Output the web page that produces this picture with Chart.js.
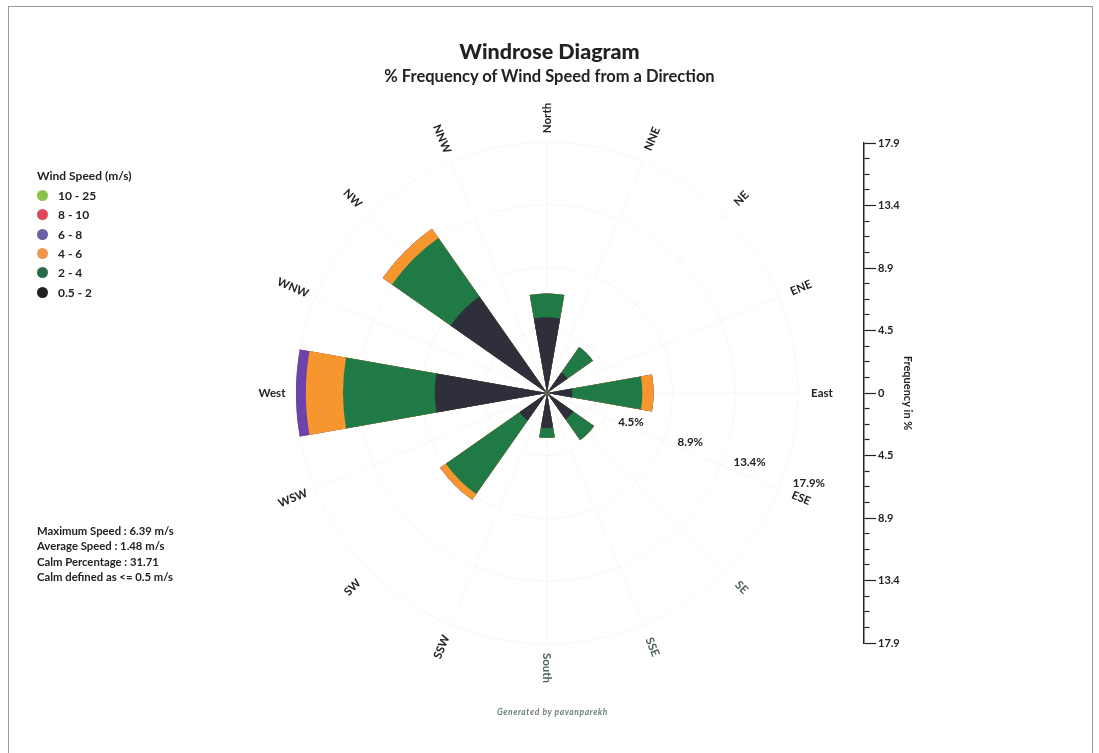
<!DOCTYPE html>
<html>
<head>
<meta charset="utf-8">
<script src="https://cdn.jsdelivr.net/npm/chart.js@4.4.1/dist/chart.umd.min.js"></script>
<style>
html,body{margin:0;padding:0;background:#fff;}
#wrap{position:relative;width:1099px;height:753px;overflow:hidden;font-family:Lato,'Open Sans',sans-serif;color:#222;background:#fff;}
#frame{position:absolute;left:8px;top:6px;width:1085px;height:800px;border:1.5px solid #9a9a9a;box-sizing:border-box;}
#rose{position:absolute;left:0;top:0;}
#axis{position:absolute;left:796px;top:123px;}
#title{position:absolute;left:0;top:38px;width:1099px;text-align:center;font-weight:900;font-size:21.5px;color:#222;}
#subtitle{position:absolute;left:0;top:66px;width:1099px;text-align:center;font-weight:bold;font-size:16.5px;color:#222;}
#legend{position:absolute;left:37px;top:168px;font-weight:bold;}
#legend .lt{font-size:12px;margin-bottom:3px;}
#legend .it{height:19.3px;font-size:12px;display:flex;align-items:center;}
#legend .dot{width:11px;height:11px;border-radius:50%;margin-left:0px;margin-right:10px;}
#stats{position:absolute;left:37px;top:523px;font-weight:bold;font-size:11.3px;line-height:15.4px;}
#footer{position:absolute;left:0;top:707px;width:1099px;text-align:center;font-style:italic;font-weight:bold;font-size:8.5px;color:#6e7d7d;letter-spacing:0.6px;padding-left:6px;box-sizing:border-box;}
</style>
</head>
<body>
<div id="wrap">
  <div id="frame"></div>
  <canvas id="rose" width="1099" height="753"></canvas>
  <canvas id="axis" width="120" height="540"></canvas>
  <div id="title">Windrose Diagram</div>
  <div id="subtitle">% Frequency of Wind Speed from a Direction</div>
  <div id="legend"></div>
  <div id="stats">
    <div>Maximum Speed : 6.39 m/s</div>
    <div>Average Speed : 1.48 m/s</div>
    <div>Calm Percentage : 31.71</div>
    <div>Calm defined as &lt;= 0.5 m/s</div>
  </div>
  <div id="footer">Generated by pavanparekh</div>
</div>
<script>
// ---------------- data ----------------
const directions = ['North','NNE','NE','ENE','East','ESE','SE','SSE','South','SSW','SW','WSW','West','WNW','NW','NNW'];
const speedBins = ['0.5 - 2','2 - 4','4 - 6','6 - 8','8 - 10','10 - 25'];
// % frequency per direction for each wind speed bin (N, NNE, NE, ... NNW)
const freq_0_5_2 = [5.4, 0, 1.8, 0, 1.8, 0, 2.3, 0, 2.5, 0, 2.4, 0, 8.0, 0, 8.4, 0];
const freq_2_4   = [1.7, 0, 2.2, 0, 5.0, 0, 1.8, 0, 0.7, 0, 6.4, 0, 6.55, 0, 5.1, 0];
const freq_4_6   = [0, 0, 0, 0, 0.8, 0, 0, 0, 0, 0, 0.5, 0, 2.65, 0, 0.8, 0];
const freq_6_8   = [0, 0, 0, 0, 0, 0, 0, 0, 0, 0, 0, 0, 0.7, 0, 0, 0];
const freq_8_10  = [0, 0, 0, 0, 0, 0, 0, 0, 0, 0, 0, 0, 0, 0, 0, 0];
const freq_10_25 = [0, 0, 0, 0, 0, 0, 0, 0, 0, 0, 0, 0, 0, 0, 0, 0];
const binSeries = [freq_0_5_2, freq_2_4, freq_4_6, freq_6_8, freq_8_10, freq_10_25];
const radialTickValues = [0, 4.475, 8.95, 13.425, 17.9];
const radialTickLabels = ['', '4.5%', '8.9%', '13.4%', '17.9%'];
const axisMajorValues = [-17.9, -13.425, -8.95, -4.475, 0, 4.475, 8.95, 13.425, 17.9];
const axisMajorLabels = ['17.9', '13.4', '8.9', '4.5', '0', '4.5', '8.9', '13.4', '17.9'];
const legendOrder = ['10 - 25','8 - 10','6 - 8','4 - 6','2 - 4','0.5 - 2'];

// ---------------- styles ----------------
const binColors = {'0.5 - 2':'#2f2f3b','2 - 4':'#1f7a45','4 - 6':'#f7952e','6 - 8':'#6c42ad','8 - 10':'#e0475b','10 - 25':'#86c240'};
const legendDotColors = {'0.5 - 2':'#222','2 - 4':'#2a6b4c','4 - 6':'#f0964a','6 - 8':'#6c5fa6','8 - 10':'#e0475b','10 - 25':'#8bc34a'};
const wedgeDeg = 20, gapDeg = 2.5;
const gridColor = 'rgba(225,205,205,0.18)';
const fontFamily = "Lato, 'Open Sans', sans-serif";
Chart.defaults.font.family = fontFamily;

// ---------------- legend (HTML) ----------------
const lg = document.getElementById('legend');
lg.innerHTML = '<div class="lt">Wind Speed (m/s)</div>' + legendOrder.map(b =>
  `<div class="it"><span class="dot" style="background:${legendDotColors[b]}"></span>${b}</div>`).join('');

// ---------------- build stacked (cumulative) polar datasets ----------------
const sectorLabels = [];
directions.forEach(d => { sectorLabels.push(d); sectorLabels.push(''); });
const running = directions.map(() => 0);
const datasets = binSeries.map((series, k) => {
  const data = [];
  series.forEach((v, i) => { running[i] += v; data.push(+running[i].toFixed(3)); data.push(0); });
  return {
    label: speedBins[k], data,
    backgroundColor: binColors[speedBins[k]],
    borderWidth: 0,
    angle: ctx => (ctx.dataIndex % 2 === 0 ? wedgeDeg : gapDeg)
  };
});

const roseLabels = {
  id: 'roseLabels',
  beforeDatasetsDraw(chart) {
    const s = chart.scales.r, ctx = chart.ctx;
    const cx = s.xCenter, cy = s.yCenter, R = s.drawingArea;
    ctx.save();
    ctx.strokeStyle = gridColor; ctx.lineWidth = 1;
    directions.forEach((d, i) => {
      const b = i * 22.5 * Math.PI / 180;
      ctx.beginPath(); ctx.moveTo(cx, cy);
      ctx.lineTo(cx + R * Math.sin(b), cy - R * Math.cos(b)); ctx.stroke();
    });
    ctx.restore();
  },
  afterDraw(chart) {
    const s = chart.scales.r, ctx = chart.ctx;
    const cx = s.xCenter, cy = s.yCenter, R = s.drawingArea;
    ctx.save();
    ctx.textAlign = 'center'; ctx.textBaseline = 'middle';
    ctx.font = 'bold 11.5px ' + fontFamily;
    directions.forEach((d, i) => {
      const deg = i * 22.5, b = deg * Math.PI / 180;
      const rr = R + 24;
      const x = cx + rr * Math.sin(b), y = cy - rr * Math.cos(b);
      const rot = (deg <= 180 ? deg - 90 : deg + 90) * Math.PI / 180;
      ctx.save();
      ctx.translate(x, y); ctx.rotate(rot);
      ctx.fillStyle = (d === 'SE' || d === 'SSE' || d === 'South') ? '#4d6262' : '#222';
      ctx.fillText(d, 0, 0);
      ctx.restore();
    });
    ctx.font = 'bold 11.5px ' + fontFamily;
    ctx.fillStyle = '#222';
    const lb = 109 * Math.PI / 180;
    radialTickValues.forEach((v, i) => {
      if (!radialTickLabels[i]) return;
      const rr = s.getDistanceFromCenterForValue(v) + 26;
      ctx.fillText(radialTickLabels[i], cx + rr * Math.sin(lb), cy - rr * Math.cos(lb));
    });
    ctx.restore();
  }
};

new Chart(document.getElementById('rose'), {
  type: 'polarArea',
  data: { labels: sectorLabels, datasets },
  options: {
    responsive: false, animation: false,
    layout: { padding: { top: 142, bottom: 109, left: 296, right: 301 } },
    plugins: { legend: { display: false }, tooltip: { enabled: false } },
    scales: {
      r: {
        min: 0, max: 17.9, startAngle: -wedgeDeg / 2,
        afterBuildTicks: sc => { sc.ticks = radialTickValues.map(v => ({ value: v })); },
        ticks: { display: false },
        grid: { color: gridColor, lineWidth: 1, circular: true },
        angleLines: { display: false },
        pointLabels: { display: false }
      }
    }
  },
  plugins: [roseLabels]
});

// ---------------- right frequency axis ----------------
const axisTicks = [];
axisMajorValues.forEach((v, i) => {
  axisTicks.push({ value: v, major: true, lbl: axisMajorLabels[i] });
  if (i < axisMajorValues.length - 1) {
    const step = (axisMajorValues[i + 1] - v) / 4;
    for (let k = 1; k < 4; k++) axisTicks.push({ value: v + step * k, major: false, lbl: '' });
  }
});

new Chart(document.getElementById('axis'), {
  type: 'scatter',
  data: { datasets: [{ data: [] }] },
  options: {
    responsive: false, animation: false,
    layout: { padding: { top: 20, bottom: 20, left: 0, right: 0 } },
    plugins: { legend: { display: false }, tooltip: { enabled: false } },
    scales: {
      x: { display: false },
      y: {
        position: 'right', min: -17.9, max: 17.9,
        afterBuildTicks: sc => { sc.ticks = axisTicks.map(t => ({ ...t })); },
        afterFit: sc => { sc.width = 52; },
        ticks: { autoSkip: false, padding: 2, color: '#222', font: { size: 11, weight: 'bold' },
          callback: (v, i, ticks) => ticks[i].lbl },
        grid: { drawOnChartArea: false, drawTicks: true, tickLength: 12, tickColor: '#222', tickWidth: 1.2,
          tickBorderDash: c => (c.tick && c.tick.major) ? [] : [5, 40] },
        border: { display: true, color: '#222', width: 1.5 },
        title: { display: true, text: 'Frequency in %', color: '#222', font: { size: 11, weight: 'bold' }, padding: { top: 2, bottom: 2 } }
      }
    }
  }
});
</script>
</body>
</html>
